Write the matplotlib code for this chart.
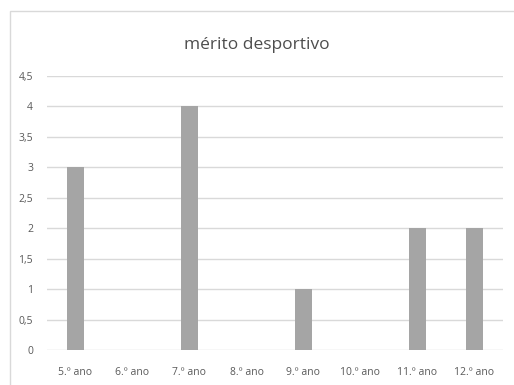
import numpy as np
import matplotlib.pyplot as plt
from matplotlib.patches import Rectangle

# Dados
anos = ['5.º ano', '6.º ano', '7.º ano', '8.º ano', '9.º ano', '10.º ano', '11.º ano', '12.º ano']
valores = [3, 0, 4, 0, 1, 0, 2, 2]
y_ticks = [0, 0.5, 1, 1.5, 2, 2.5, 3, 3.5, 4, 4.5]
y_labels = ['0', '0,5', '1', '1,5', '2', '2,5', '3', '3,5', '4', '4,5']

plt.rcParams['font.family'] = ['Open Sans', 'DejaVu Sans']

fig = plt.figure(figsize=(5.14, 3.85), dpi=100)

# Moldura do grafico
fig.patches.append(Rectangle((10 / 514, -0.1), 1.2, 1 - 11 / 385 + 0.1,
                             transform=fig.transFigure, fill=False,
                             edgecolor='#d9d9d9', lw=1))

ax = fig.add_axes((47 / 514, 1 - 350 / 385, 456 / 514, 274 / 385))
x = np.arange(len(anos))
ax.bar(x, valores, width=0.3, color='#a5a5a5', zorder=3)

ax.set_xlim(-0.5, len(anos) - 0.5)
ax.set_ylim(0, 4.5)
ax.set_yticks(y_ticks)
ax.set_yticklabels(y_labels)
ax.set_xticks(x)
ax.set_xticklabels(anos)
ax.tick_params(length=0, labelsize=7.5, colors='#595959')
ax.tick_params(axis='x', pad=12)
ax.tick_params(axis='y', pad=10)
ax.grid(axis='y', color='#d9d9d9', lw=1, zorder=0)
for s in ax.spines.values():
    s.set_visible(False)

fig.text(0.5, 1 - 45 / 385, 'mérito desportivo', ha='center', va='center',
         fontsize=12.5, color='#4d4d4d')

fig.savefig('out.png', dpi=100)
